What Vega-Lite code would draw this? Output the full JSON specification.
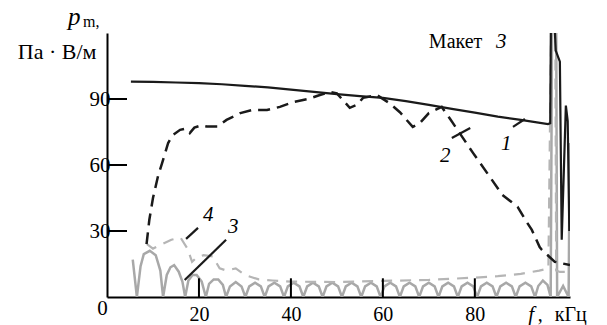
{
  "$schema": "https://vega.github.io/schema/vega-lite/v6.json",
  "width": 463,
  "height": 264,
  "autosize": {"type": "none"},
  "padding": {"left": 107, "top": 33, "right": 37, "bottom": 28},
  "background": "white",
  "config": {
    "view": {"stroke": null},
    "font": "'Liberation Serif', 'Times New Roman', serif",
    "text": {"font": "'Liberation Serif', 'Times New Roman', serif", "color": "black"}
  },
  "datasets": {
    "c1": [
      {"f": 5.2, "p": 97.9}, {"f": 10, "p": 97.8}, {"f": 15, "p": 97.5}, {"f": 20, "p": 97.2},
      {"f": 25, "p": 96.7}, {"f": 30, "p": 96.0}, {"f": 35, "p": 95.3}, {"f": 40, "p": 94.3},
      {"f": 45, "p": 93.2}, {"f": 50, "p": 92.2}, {"f": 55, "p": 91.3}, {"f": 60, "p": 90.5},
      {"f": 65, "p": 89.0}, {"f": 70, "p": 87.3}, {"f": 75, "p": 85.5}, {"f": 80, "p": 83.8},
      {"f": 85, "p": 82.0}, {"f": 90, "p": 80.5}, {"f": 95.9, "p": 78.6}, {"f": 96.4, "p": 79},
      {"f": 96.55, "p": 125}, {"f": 97.3, "p": 125}, {"f": 97.6, "p": 112}, {"f": 98.5, "p": 107},
      {"f": 98.9, "p": 26}, {"f": 99.4, "p": 60}, {"f": 99.8, "p": 87}, {"f": 100.2, "p": 80},
      {"f": 100.55, "p": 30}
    ],
    "c2": [
      {"f": 8.6, "p": 24}, {"f": 9.2, "p": 35}, {"f": 10, "p": 45}, {"f": 11.1, "p": 55},
      {"f": 12, "p": 61}, {"f": 13.3, "p": 70}, {"f": 14.3, "p": 73.6}, {"f": 15.9, "p": 76},
      {"f": 17, "p": 76.5}, {"f": 18, "p": 74.5}, {"f": 19, "p": 77}, {"f": 20.5, "p": 78},
      {"f": 21.7, "p": 77.5}, {"f": 24, "p": 77.5}, {"f": 26, "p": 80.5}, {"f": 29, "p": 83.6},
      {"f": 31.5, "p": 85}, {"f": 34.8, "p": 85}, {"f": 37.6, "p": 86.4}, {"f": 40.4, "p": 88.6},
      {"f": 43.7, "p": 90}, {"f": 46.3, "p": 91.8}, {"f": 48.5, "p": 93.2}, {"f": 50, "p": 92.5},
      {"f": 51.3, "p": 89.5}, {"f": 52.8, "p": 86}, {"f": 54.3, "p": 87.3}, {"f": 55.7, "p": 90.5},
      {"f": 58.7, "p": 91.8}, {"f": 61.5, "p": 88}, {"f": 63.7, "p": 84}, {"f": 66.5, "p": 77.3},
      {"f": 68, "p": 79}, {"f": 70, "p": 83.6}, {"f": 72.8, "p": 86.4}, {"f": 74.6, "p": 81},
      {"f": 76.7, "p": 74.5}, {"f": 79.6, "p": 65.5}, {"f": 83.3, "p": 54.5}, {"f": 86, "p": 46.4},
      {"f": 89.3, "p": 41}, {"f": 91.3, "p": 34}, {"f": 92.4, "p": 30.5}, {"f": 94.1, "p": 22.7},
      {"f": 94.6, "p": 21.4}, {"f": 97.4, "p": 16}, {"f": 98.5, "p": 15.5}, {"f": 100.7, "p": 14.5}
    ],
    "c3": [
      {"f": 5.6, "p": 17}, {"f": 6.5, "p": 0}, {"f": 7.3, "p": 14}, {"f": 8.0, "p": 19.5},
      {"f": 9.3, "p": 21}, {"f": 10.6, "p": 19}, {"f": 11.6, "p": 12}, {"f": 12.2, "p": 0},
      {"f": 13.0, "p": 10}, {"f": 13.8, "p": 13.5}, {"f": 14.6, "p": 14.5}, {"f": 15.6, "p": 11.5},
      {"f": 16.4, "p": 7}, {"f": 17.0, "p": 0}, {"f": 17.7, "p": 7.5}, {"f": 18.6, "p": 10},
      {"f": 19.5, "p": 10}, {"f": 20.6, "p": 7}, {"f": 21.5, "p": 0}, {"f": 22.2, "p": 6},
      {"f": 23.2, "p": 8}, {"f": 24.2, "p": 8}, {"f": 25.2, "p": 5.5}, {"f": 25.9, "p": 0},
      {"f": 26.74, "p": 4.8}, {"f": 28.0, "p": 6.8}, {"f": 29.26, "p": 4.8}, {"f": 30.1, "p": 0},
      {"f": 30.94, "p": 4.8}, {"f": 32.2, "p": 6.5}, {"f": 33.46, "p": 4.8}, {"f": 34.3, "p": 0},
      {"f": 35.14, "p": 4.8}, {"f": 36.4, "p": 6.5}, {"f": 37.66, "p": 4.8}, {"f": 38.5, "p": 0},
      {"f": 39.34, "p": 4.8}, {"f": 40.6, "p": 6.5}, {"f": 41.86, "p": 4.8}, {"f": 42.7, "p": 0},
      {"f": 43.54, "p": 4.8}, {"f": 44.8, "p": 6.5}, {"f": 46.06, "p": 4.8}, {"f": 46.9, "p": 0},
      {"f": 47.74, "p": 4.8}, {"f": 49.0, "p": 6.5}, {"f": 50.26, "p": 4.8}, {"f": 51.1, "p": 0},
      {"f": 51.94, "p": 4.8}, {"f": 53.2, "p": 6.5}, {"f": 54.46, "p": 4.8}, {"f": 55.3, "p": 0},
      {"f": 56.14, "p": 4.8}, {"f": 57.4, "p": 6.5}, {"f": 58.66, "p": 4.8}, {"f": 59.5, "p": 0},
      {"f": 60.34, "p": 4.8}, {"f": 61.6, "p": 6.5}, {"f": 62.86, "p": 4.8}, {"f": 63.7, "p": 0},
      {"f": 64.54, "p": 4.8}, {"f": 65.8, "p": 6.5}, {"f": 67.06, "p": 4.8}, {"f": 67.9, "p": 0},
      {"f": 68.74, "p": 4.8}, {"f": 70.0, "p": 6.5}, {"f": 71.26, "p": 4.8}, {"f": 72.1, "p": 0},
      {"f": 72.94, "p": 4.8}, {"f": 74.2, "p": 6.5}, {"f": 75.46, "p": 4.8}, {"f": 76.3, "p": 0},
      {"f": 77.14, "p": 4.8}, {"f": 78.4, "p": 6.5}, {"f": 79.66, "p": 4.8}, {"f": 80.5, "p": 0},
      {"f": 81.34, "p": 4.8}, {"f": 82.6, "p": 6.5}, {"f": 83.86, "p": 4.8}, {"f": 84.7, "p": 0},
      {"f": 85.54, "p": 4.8}, {"f": 86.8, "p": 6.5}, {"f": 88.06, "p": 4.8}, {"f": 88.9, "p": 0},
      {"f": 89.74, "p": 4.8}, {"f": 91.0, "p": 6.5}, {"f": 92.26, "p": 4.8}, {"f": 93.1, "p": 0},
      {"f": 93.8, "p": 5}, {"f": 94.8, "p": 7.5}, {"f": 95.8, "p": 5.5}, {"f": 96.5, "p": 0},
      {"f": 96.8, "p": 125}, {"f": 97.7, "p": 125}, {"f": 97.9, "p": 0}, {"f": 99.2, "p": 5},
      {"f": 100.4, "p": 0}, {"f": 100.65, "p": 70}
    ],
    "c4": [
      {"f": 8.7, "p": 24}, {"f": 10, "p": 22}, {"f": 12, "p": 24}, {"f": 14, "p": 26},
      {"f": 16, "p": 27}, {"f": 17.5, "p": 22}, {"f": 18.5, "p": 16}, {"f": 19.5, "p": 18},
      {"f": 21, "p": 19}, {"f": 23, "p": 18.5}, {"f": 24.5, "p": 13}, {"f": 26, "p": 12},
      {"f": 28, "p": 13}, {"f": 30, "p": 10}, {"f": 33, "p": 8}, {"f": 36, "p": 7.5},
      {"f": 40, "p": 7}, {"f": 50, "p": 6.8}, {"f": 60, "p": 7.3}, {"f": 70, "p": 7.8},
      {"f": 80, "p": 8.8}, {"f": 85, "p": 9.5}, {"f": 90, "p": 10.5}, {"f": 94, "p": 12},
      {"f": 96.0, "p": 13}, {"f": 96.6, "p": 125}, {"f": 97.5, "p": 125}, {"f": 97.7, "p": 12},
      {"f": 98.5, "p": 11.4}, {"f": 100.7, "p": 11.4}
    ],
    "leaders": [
      {"id": "1", "f": 88.3, "p": 77.3}, {"id": "1", "f": 90.9, "p": 80.9},
      {"id": "2", "f": 75.0, "p": 72.3}, {"id": "2", "f": 79.0, "p": 76.8},
      {"id": "3", "f": 16.9, "p": 7.7}, {"id": "3", "f": 25.9, "p": 26.0},
      {"id": "4", "f": 17.2, "p": 26.4}, {"id": "4", "f": 19.8, "p": 31.4}
    ],
    "xticks": [
      {"f": 20, "p": 0, "p2": 8.5}, {"f": 40, "p": 0, "p2": 8.5},
      {"f": 60, "p": 0, "p2": 8.5}, {"f": 80, "p": 0, "p2": 8.5}
    ],
    "yticks": [
      {"f": 0, "f2": 4.35, "p": 30}, {"f": 0, "f2": 4.35, "p": 60}, {"f": 0, "f2": 4.35, "p": 90}
    ],
    "italicLabels": [
      {"f": 85.7, "p": 66.8, "t": "1"}, {"f": 72.4, "p": 61.4, "t": "2"},
      {"f": 26.3, "p": 29.1, "t": "3"}, {"f": 20.9, "p": 34.5, "t": "4"},
      {"f": 84.6, "p": 113.2, "t": "3"}, {"f": 91.6, "p": -10.9, "t": "f"}
    ],
    "romanLabels": [
      {"f": 70.0, "p": 113.2, "t": "Макет"},
      {"f": 93.7, "p": -10.9, "t": ","},
      {"f": 97.4, "p": -10.9, "t": "кГц"}
    ],
    "unitLabel": [{"f": -19.4, "p": 108.2, "t": "Па · В/м"}],
    "originLabel": [{"f": -1.0, "p": -8.0, "t": "0"}],
    "pLabel": [{"f": -8.5, "p": 123.6, "t": "p"}],
    "mLabel": [{"f": -5.2, "p": 122.7, "t": "m,"}]
  },
  "encoding": {
    "x": {
      "field": "f", "type": "quantitative",
      "scale": {"domain": [0, 100.7], "nice": false, "zero": false},
      "axis": {
        "values": [20, 40, 60, 80], "tickSize": 0, "grid": false, "title": null,
        "domainColor": "black", "domainWidth": 2, "labelFontSize": 20,
        "labelFont": "'Liberation Serif', 'Times New Roman', serif", "labelColor": "black", "labelPadding": 7
      }
    },
    "y": {
      "field": "p", "type": "quantitative",
      "scale": {"domain": [0, 120], "nice": false, "zero": false},
      "axis": {
        "values": [30, 60, 90], "tickSize": 0, "grid": false, "title": null,
        "domainColor": "black", "domainWidth": 2, "labelFontSize": 21,
        "labelFont": "'Liberation Serif', 'Times New Roman', serif", "labelColor": "black", "labelPadding": -3
      }
    }
  },
  "layer": [
    {"data": {"name": "c3"}, "mark": {"type": "line", "clip": true, "color": "#a8a8a8", "strokeWidth": 2.5}},
    {"data": {"name": "c4"}, "mark": {"type": "line", "clip": true, "color": "#b5b5b5", "strokeWidth": 2.2, "strokeDash": [11, 8]}},
    {"data": {"name": "c2"}, "mark": {"type": "line", "clip": true, "color": "#1a1a1a", "strokeWidth": 2.5, "strokeDash": [12, 7]}},
    {"data": {"name": "c1"}, "mark": {"type": "line", "clip": true, "color": "#1a1a1a", "strokeWidth": 2.2}},
    {"data": {"name": "leaders"}, "mark": {"type": "line", "color": "#1a1a1a", "strokeWidth": 2.2}, "encoding": {"detail": {"field": "id"}}},
    {"data": {"name": "xticks"}, "mark": {"type": "rule", "color": "black", "strokeWidth": 2}, "encoding": {"y2": {"field": "p2"}}},
    {"data": {"name": "yticks"}, "mark": {"type": "rule", "color": "black", "strokeWidth": 2}, "encoding": {"x2": {"field": "f2"}}},
    {"data": {"name": "italicLabels"}, "mark": {"type": "text", "fontStyle": "italic", "fontSize": 21, "align": "left", "baseline": "alphabetic"}, "encoding": {"text": {"field": "t"}}},
    {"data": {"name": "romanLabels"}, "mark": {"type": "text", "fontSize": 20, "align": "left", "baseline": "alphabetic"}, "encoding": {"text": {"field": "t"}}},
    {"data": {"name": "unitLabel"}, "mark": {"type": "text", "fontSize": 22, "align": "left", "baseline": "alphabetic"}, "encoding": {"text": {"field": "t"}}},
    {"data": {"name": "originLabel"}, "mark": {"type": "text", "fontSize": 21, "align": "center", "baseline": "alphabetic"}, "encoding": {"text": {"field": "t"}}},
    {"data": {"name": "pLabel"}, "mark": {"type": "text", "fontStyle": "italic", "fontSize": 25, "align": "left", "baseline": "alphabetic"}, "encoding": {"text": {"field": "t"}}},
    {"data": {"name": "mLabel"}, "mark": {"type": "text", "fontSize": 16, "align": "left", "baseline": "alphabetic"}, "encoding": {"text": {"field": "t"}}}
  ]
}
